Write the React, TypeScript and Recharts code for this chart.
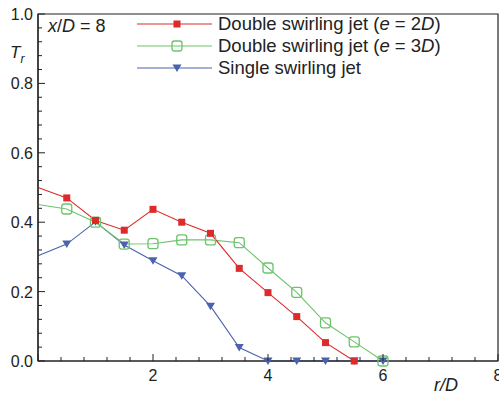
import React from "react";
import { LineChart, Line, XAxis, YAxis, ReferenceArea } from "recharts";

const rD = [0, 0.5, 1, 1.5, 2, 2.5, 3, 3.5, 4, 4.5, 5, 5.5, 6];
const doubleE2 = [0.5, 0.47, 0.405, 0.377, 0.437, 0.4, 0.368, 0.267, 0.197, 0.128, 0.053, 0, null];
const doubleE3 = [0.451, 0.438, 0.4, 0.337, 0.338, 0.349, 0.349, 0.341, 0.268, 0.198, 0.11, 0.055, 0];
const single = [0.303, 0.337, 0.401, 0.334, 0.289, 0.246, 0.158, 0.039, 0, 0, 0, 0, 0];

const xTicks = [0, 0.4, 0.8, 1.2, 1.6, 2, 2.4, 2.8, 3.2, 3.6, 4, 4.4, 4.8, 5.2, 5.6, 6, 6.4, 6.8, 7.2, 7.6, 8];
const yTicks = [
  0, 0.04, 0.08, 0.12, 0.16, 0.2, 0.24, 0.28, 0.32, 0.36, 0.4, 0.44, 0.48, 0.52, 0.56, 0.6,
  0.64, 0.68, 0.72, 0.76, 0.8, 0.84, 0.88, 0.92, 0.96, 1,
];

const RED = "#dd2a2a";
const GREEN = "#6cc46c";
const BLUE = "#4b63ae";
const FONT = "'Liberation Sans', Arial, sans-serif";

const data = rD.map((x, i) => ({ x, e2: doubleE2[i], e3: doubleE3[i], single: single[i] }));

const isMajor = (v: number, step: number) => Math.abs(v / step - Math.round(v / step)) < 1e-6;

function XTick(props: any) {
  const { x, y, payload } = props;
  const v = payload.value as number;
  const major = isMajor(v, 2);
  return (
    <g>
      <line x1={x} x2={x} y1={y} y2={y - (major ? 7 : 4)} stroke="#222" strokeWidth={1} />
      {major && v > 0 && (
        <text x={x} y={y + 20} textAnchor="middle" fontSize={16} fill="#222" fontFamily={FONT}>
          {v}
        </text>
      )}
    </g>
  );
}

function YTick(props: any) {
  const { x, y, payload } = props;
  const v = payload.value as number;
  const major = isMajor(v, 0.2);
  return (
    <g>
      <line x1={x} x2={x + (major ? 7 : 4)} y1={y} y2={y} stroke="#222" strokeWidth={1} />
      {major && (
        <text x={x - 5} y={y + 6} textAnchor="end" fontSize={16} fill="#222" fontFamily={FONT}>
          {v.toFixed(1)}
        </text>
      )}
    </g>
  );
}

function squareDot(color: string) {
  return (p: any) => {
    const { cx, cy, index } = p;
    if (index === 0 || cy == null) return <g key={`s-${index}`} />;
    return <rect key={`s-${index}`} x={cx - 3.5} y={cy - 3.5} width={7} height={7} fill={color} />;
  };
}

function openSquareDot(color: string) {
  return (p: any) => {
    const { cx, cy, index } = p;
    if (index === 0 || cy == null) return <g key={`o-${index}`} />;
    return (
      <rect key={`o-${index}`} x={cx - 5} y={cy - 5} width={10} height={10} rx={2.5}
        fill="none" stroke={color} strokeWidth={1.3} />
    );
  };
}

function triangleDot(color: string) {
  return (p: any) => {
    const { cx, cy, index } = p;
    if (index === 0 || cy == null) return <g key={`t-${index}`} />;
    return (
      <path key={`t-${index}`} d={`M${cx - 4.5},${cy - 3.5} L${cx + 4.5},${cy - 3.5} L${cx},${cy + 4} Z`} fill={color} />
    );
  };
}

const legendRows = [
  { color: RED, kind: "square", label: ["Double swirling jet (", "e", " = 2", "D", ")"] },
  { color: GREEN, kind: "open", label: ["Double swirling jet (", "e", " = 3", "D", ")"] },
  { color: BLUE, kind: "tri", label: ["Single swirling jet"] },
];

function Overlay() {
  return (
    <svg width={499} height={394} style={{ position: "absolute", left: 0, top: 0, pointerEvents: "none" }}>
      <g fontFamily={FONT} fill="#222">
        <text x={48} y={32} fontSize={18}>
          <tspan fontStyle="italic">x</tspan>/<tspan fontStyle="italic">D</tspan> = 8
        </text>
        <text x={10} y={58} fontSize={17} fontStyle="italic">
          T<tspan fontSize={12} dy={5}>r</tspan>
        </text>
        <text x={434} y={391} fontSize={18} fontStyle="italic">r/D</text>
        {legendRows.map((r, i) => {
          const y = 24 + i * 22;
          return (
            <g key={i}>
              <line x1={137} x2={212} y1={y} y2={y} stroke={r.color} strokeWidth={1.2} />
              {r.kind === "square" && <rect x={173.5} y={y - 3.5} width={7} height={7} fill={r.color} />}
              {r.kind === "open" && (
                <rect x={172} y={y - 5} width={10} height={10} rx={2.5} fill="none" stroke={r.color} strokeWidth={1.3} />
              )}
              {r.kind === "tri" && <path d={`M172.5,${y - 3.5} L181.5,${y - 3.5} L177,${y + 4} Z`} fill={r.color} />}
              <text x={218} y={y + 6} fontSize={18.5}>
                {r.label.map((s, j) => (
                  <tspan key={j} fontStyle={j % 2 === 1 ? "italic" : "normal"}>{s}</tspan>
                ))}
              </text>
            </g>
          );
        })}
      </g>
    </svg>
  );
}

export default function App() {
  return (
    <div style={{ position: "absolute", left: 0, top: 0, width: 499, height: 394, background: "#fff", overflow: "hidden" }}>
      <LineChart width={499} height={394} data={data} margin={{ top: 14, right: 1, left: 0, bottom: 0 }}>
        <XAxis
          type="number"
          dataKey="x"
          domain={[0, 8]}
          ticks={xTicks}
          interval={0}
          height={33}
          tickSize={0}
          tickMargin={0}
          tick={XTick}
          axisLine={{ stroke: "#222", strokeWidth: 1.2 }}
        />
        <YAxis
          type="number"
          domain={[0, 1]}
          ticks={yTicks}
          interval={0}
          width={38}
          tickSize={0}
          tickMargin={0}
          tick={YTick}
          axisLine={{ stroke: "#222", strokeWidth: 1.2 }}
        />
        <ReferenceArea x1={0} x2={8} y1={0} y2={1} fill="none" stroke="#222" strokeWidth={1.2} />
        <Line dataKey="single" stroke={BLUE} strokeWidth={1.1} dot={triangleDot(BLUE)} isAnimationActive={false} />
        <Line dataKey="e3" stroke={GREEN} strokeWidth={1.1} dot={openSquareDot(GREEN)} isAnimationActive={false} />
        <Line dataKey="e2" stroke={RED} strokeWidth={1.1} dot={squareDot(RED)} isAnimationActive={false} />
      </LineChart>
      <Overlay />
    </div>
  );
}
